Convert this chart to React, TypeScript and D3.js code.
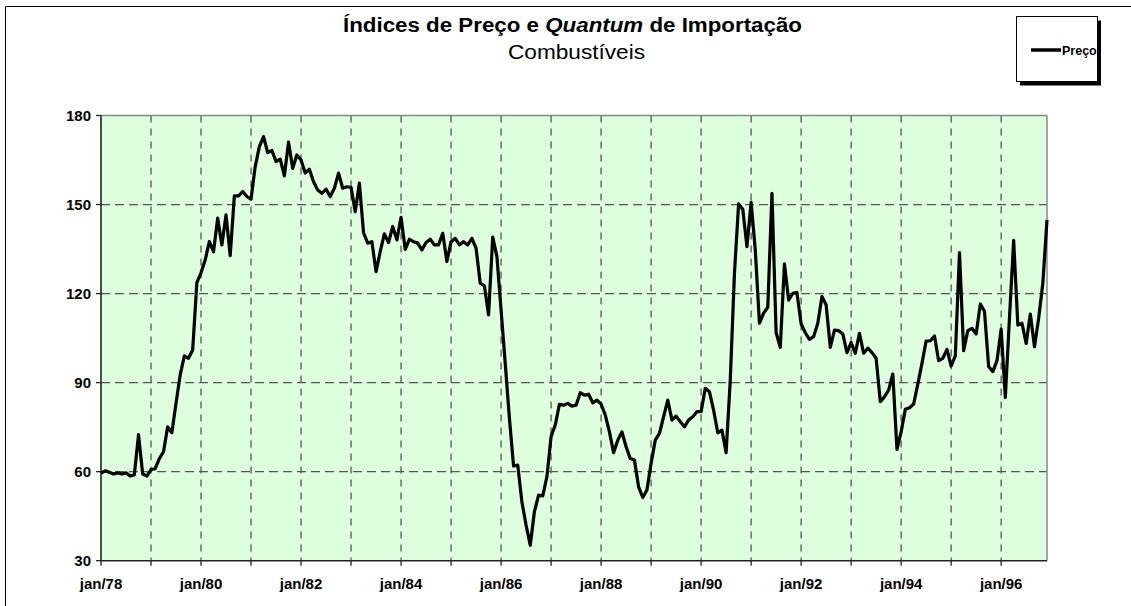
import React from "react";
import * as d3 from "d3";

const tickLabels = ["jan/78", "jan/80", "jan/82", "jan/84", "jan/86", "jan/88", "jan/90", "jan/92", "jan/94", "jan/96"];
const yTicks = [30, 60, 90, 120, 150, 180];

const preco1978 = [59.5, 60.3, 59.8, 59.2, 59.6, 59.2, 59.6, 58.5, 59.0, 72.5, 59.2, 58.5];
const preco1979 = [60.7, 61.0, 64.4, 66.7, 75.1, 73.1, 83.0, 92.6, 99.0, 98.2, 101.0, 123.7];
const preco1980 = [127.0, 131.3, 137.5, 134.1, 145.4, 136.4, 146.5, 132.8, 152.9, 152.9, 154.4, 152.7];
const preco1981 = [151.8, 162.8, 169.5, 172.9, 167.5, 168.2, 164.5, 165.3, 159.7, 171.0, 162.2, 166.7];
const preco1982 = [165.0, 160.6, 161.9, 157.7, 154.9, 153.8, 155.2, 152.7, 155.5, 160.6, 155.5, 156.0];
const preco1983 = [155.8, 147.6, 157.2, 140.5, 137.0, 137.5, 127.4, 134.1, 140.1, 137.2, 142.6, 138.1];
const preco1984 = [145.7, 134.9, 138.3, 137.5, 137.0, 134.7, 137.2, 138.3, 136.4, 136.4, 140.3, 130.8];
const preco1985 = [137.5, 138.6, 136.4, 137.5, 136.4, 138.6, 135.3, 123.5, 122.6, 112.8, 139.0, 132.5];
const preco1986 = [114.5, 96.5, 78.0, 61.9, 62.2, 49.8, 42.0, 35.2, 46.5, 52.1, 51.8, 58.3];
const preco1987 = [71.8, 75.7, 82.7, 82.4, 83.0, 82.1, 82.4, 86.6, 85.8, 86.1, 83.2, 84.1];
const preco1988 = [82.8, 79.1, 73.4, 66.4, 70.6, 73.4, 68.4, 64.4, 63.9, 54.9, 51.3, 53.8];
const preco1989 = [62.8, 70.6, 72.9, 78.5, 84.1, 77.4, 78.7, 76.8, 75.1, 77.4, 78.5, 80.2];
const preco1990 = [80.2, 88.1, 86.9, 80.7, 73.1, 74.0, 66.4, 90.9, 126.8, 150.2, 148.4, 135.8];
const preco1991 = [150.7, 134.7, 110.0, 113.4, 115.4, 153.8, 106.8, 101.9, 130.0, 117.8, 120.1, 120.3];
const preco1992 = [109.8, 106.8, 104.6, 105.5, 110.0, 119.0, 116.2, 101.9, 107.7, 107.5, 106.4, 100.1];
const preco1993 = [103.5, 99.9, 106.6, 99.9, 101.6, 100.1, 98.2, 83.6, 85.2, 87.5, 92.9, 67.5];
const preco1994 = [73.4, 81.0, 81.5, 82.8, 89.5, 96.5, 104.0, 104.1, 105.7, 97.4, 98.2, 101.2];
const preco1995 = [95.6, 99.0, 133.8, 100.8, 107.5, 108.3, 106.4, 116.5, 114.0, 95.4, 93.7, 97.4];
const preco1996 = [108.0, 85.0, 112.0, 137.9, 109.4, 110.0, 103.2, 113.1, 102.1, 111.7, 123.5, 144.8];

const preco = [
  ...preco1978, ...preco1979, ...preco1980, ...preco1981, ...preco1982,
  ...preco1983, ...preco1984, ...preco1985, ...preco1986, ...preco1987,
  ...preco1988, ...preco1989, ...preco1990, ...preco1991, ...preco1992,
  ...preco1993, ...preco1994, ...preco1995, ...preco1996,
];

const W = 1131;
const H = 606;
const plot = { left: 101, right: 1047, top: 115.5, bottom: 560.7 };
const FONT = "Arial, 'Liberation Sans', Helvetica, sans-serif";

export default function App() {
  const n = preco.length;
  const x = d3.scaleLinear().domain([0, n - 1]).range([plot.left, plot.right]);
  const y = d3.scaleLinear().domain([30, 180]).range([plot.bottom, plot.top]);
  const line = d3.line<number>().x((_, i) => x(i)).y((d) => y(d)).curve(d3.curveLinear);
  const yearTicks = d3.range(0, n, 12);

  return (
    <svg
      width={W}
      height={H}
      style={{ position: "fixed", left: 0, top: 0, background: "#fff", display: "block" }}
      fontFamily={FONT}
    >
      {/* chart area border */}
      <line x1={5.5} y1={6.5} x2={W} y2={6.5} stroke="#000" strokeWidth={1} />
      <line x1={5.5} y1={6.5} x2={5.5} y2={H} stroke="#000" strokeWidth={1} />

      {/* title */}
      <text
        x={343}
        y={32}
        fontSize={20}
        fontWeight="bold"
        fill="#000"
        textLength={459}
        lengthAdjust="spacingAndGlyphs"
      >
        Índices de Preço e <tspan fontStyle="italic">Quantum</tspan> de Importação
      </text>
      <text
        x={508}
        y={59}
        fontSize={19.5}
        fill="#000"
        textLength={137}
        lengthAdjust="spacingAndGlyphs"
      >
        Combustíveis
      </text>

      {/* legend */}
      <rect x={1020} y={20.5} width={81} height={65} fill="#000" />
      <rect x={1016.5} y={16.5} width={81} height={65} fill="#fff" stroke="#000" strokeWidth={1} />
      <line x1={1031} y1={50} x2={1061} y2={50} stroke="#000" strokeWidth={3.5} />
      <text x={1062} y={54.5} fontSize={12.5} fontWeight="bold" fill="#000">
        Preço
      </text>

      {/* plot area */}
      <rect
        x={plot.left}
        y={plot.top}
        width={plot.right - plot.left}
        height={plot.bottom - plot.top}
        fill="#ddffdd"
      />

      {/* horizontal grid */}
      {yTicks.filter((t) => t > 30 && t < 180).map((t) => (
        <line
          key={"hg" + t}
          x1={plot.left}
          x2={plot.right}
          y1={y(t)}
          y2={y(t)}
          stroke="#555"
          strokeWidth={1.3}
          strokeDasharray="9 5"
        />
      ))}
      {/* vertical grid */}
      {yearTicks.filter((i) => i > 0).map((i) => (
        <line
          key={"vg" + i}
          x1={x(i)}
          x2={x(i)}
          y1={plot.top}
          y2={plot.bottom}
          stroke="#555"
          strokeWidth={1.3}
          strokeDasharray="7 6"
        />
      ))}

      {/* top/right border */}
      <line x1={plot.left} x2={plot.right} y1={plot.top} y2={plot.top} stroke="#888" strokeWidth={1.5} />
      <line x1={plot.right} x2={plot.right} y1={plot.top} y2={plot.bottom} stroke="#888" strokeWidth={1.5} />

      {/* axes */}
      <line x1={plot.left} x2={plot.left} y1={plot.top} y2={plot.bottom} stroke="#222" strokeWidth={1.6} />
      <line x1={plot.left} x2={plot.right} y1={plot.bottom} y2={plot.bottom} stroke="#222" strokeWidth={1.6} />

      {/* y ticks */}
      {yTicks.map((t) => (
        <g key={"yt" + t}>
          <line x1={plot.left - 5} x2={plot.left} y1={y(t)} y2={y(t)} stroke="#222" strokeWidth={1.3} />
          <text x={91} y={y(t) + 5.5} textAnchor="end" fontSize={15} fontWeight="bold" fill="#000">
            {t}
          </text>
        </g>
      ))}

      {/* x ticks */}
      {yearTicks.map((i) => (
        <line key={"xt" + i} x1={x(i)} x2={x(i)} y1={plot.bottom} y2={plot.bottom + 5} stroke="#222" strokeWidth={1.3} />
      ))}
      {tickLabels.map((lab, k) => (
        <text
          key={"xl" + lab}
          x={x(k * 24)}
          y={589}
          textAnchor="middle"
          fontSize={15}
          fontWeight="bold"
          fill="#000"
        >
          {lab}
        </text>
      ))}

      {/* series */}
      <path d={line(preco) || ""} fill="none" stroke="#000" strokeWidth={3.2} strokeLinejoin="round" />
    </svg>
  );
}
